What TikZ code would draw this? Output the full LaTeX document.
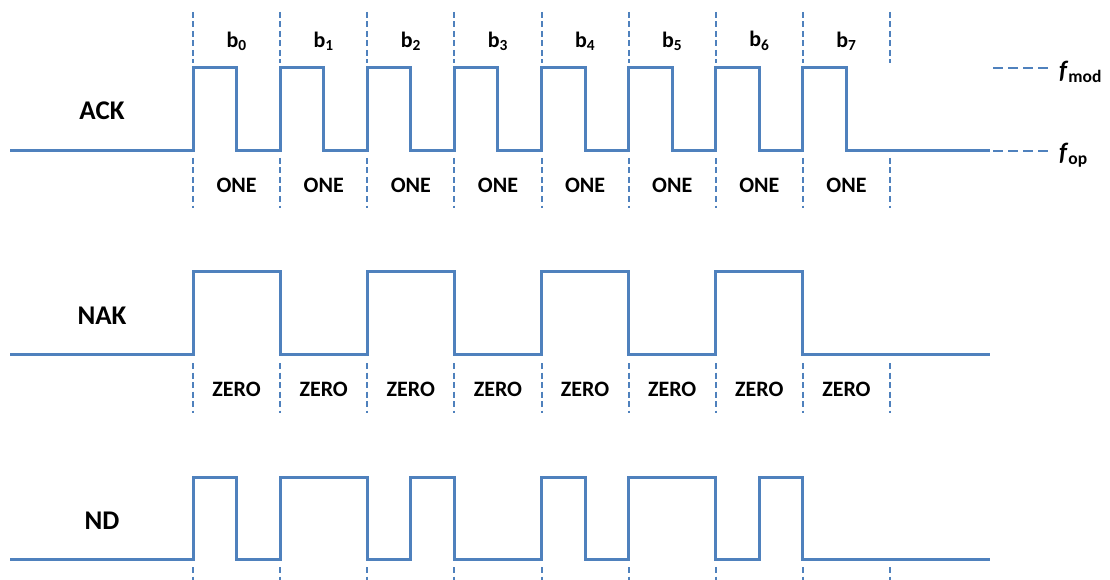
\documentclass[tikz,border=0pt]{standalone}
\usepackage{fontspec}
\setmainfont{Carlito}
\usetikzlibrary{calc}
\definecolor{sigblue}{HTML}{4F81BD}
\tikzset{
    signal/.style={
        sigblue,
        line width=3pt,
        line join=miter
    },
    bit divider/.style={
        sigblue,
        line width=2pt,
        dash pattern=on 6pt off 3.5pt
    },
    level mark/.style={
        sigblue,
        line width=1.6pt,
        dash pattern=on 10pt off 5pt
    },
    sig name/.style={
        font=\fontsize{27}{31}\selectfont\bfseries
    },
    bit label/.style={
        font=\fontsize{22}{26}\selectfont\bfseries
    }
}
\newcommand{\xs}{193}   % first bit edge
\newcommand{\bw}{87.125} % bit width

\begin{document}
\begin{tikzpicture}[x=1pt,y=-1pt]
\useasboundingbox (0,0) rectangle (1110,580);

% bit dividers
\foreach \i in {0,...,8}{
    \draw[bit divider] ({\xs+\bw*\i},12) -- ({\xs+\bw*\i},63);
    \draw[bit divider] ({\xs+\bw*\i},158) -- ({\xs+\bw*\i},208);
    \draw[bit divider] ({\xs+\bw*\i},363) -- ({\xs+\bw*\i},413);
    \draw[bit divider] ({\xs+\bw*\i},567) -- ({\xs+\bw*\i},580);
}

% bit labels
\foreach \i in {0,...,7}{
    \node[bit label] (b\i) at ({\xs+\bw*\i+\bw/2},41) {b\textsubscript{\i}};
    \node[bit label] (one\i) at ({\xs+\bw*\i+\bw/2},185) {ONE};
    \node[bit label] (zero\i) at ({\xs+\bw*\i+\bw/2},389) {ZERO};
}

% signal names
\node[sig name] (ack) at (102,111) {ACK};
\node[sig name] (nak) at (102,316) {NAK};
\node[sig name] (nd) at (102,521) {ND};

% ACK: every bit a one
\draw[signal] (10,151)
    \foreach \i in {0,...,7}{
        -- ({\xs+\bw*\i},151) -- ({\xs+\bw*\i},68)
        -- ({\xs+\bw*\i+\bw/2},68) -- ({\xs+\bw*\i+\bw/2},151)
    } -- (990,151);

% NAK: every bit a zero
\draw[signal] (10,354)
    \foreach \i in {0,2,4,6}{
        -- ({\xs+\bw*\i},354) -- ({\xs+\bw*\i},271)
        -- ({\xs+\bw*(\i+1)},271) -- ({\xs+\bw*(\i+1)},354)
    } -- (990,354);

% ND: half-bit pulses
\draw[signal] (10,559)
    \foreach \a/\b in {0/1,2/4,5/6,8/9,10/12,13/14}{
        -- ({\xs+\bw*\a/2},559) -- ({\xs+\bw*\a/2},477)
        -- ({\xs+\bw*\b/2},477) -- ({\xs+\bw*\b/2},559)
    } -- (990,559);

% levels
\coordinate (mod) at (993,68);
\coordinate (op) at (993,151);
\node[sig name, anchor=west, inner sep=0pt, font=\fontsize{25}{29}\selectfont\bfseries] (fmod) at (1059,72)
    {\textit{f}\textsubscript{mod}};
\node[sig name, anchor=west, inner sep=0pt, font=\fontsize{25}{29}\selectfont\bfseries] (fop) at (1059,155)
    {\textit{f}\textsubscript{op}};
\draw[level mark] (mod) -- ++(55,0);
\draw[level mark] (op) -- ++(55,0);
\end{tikzpicture}
\end{document}
